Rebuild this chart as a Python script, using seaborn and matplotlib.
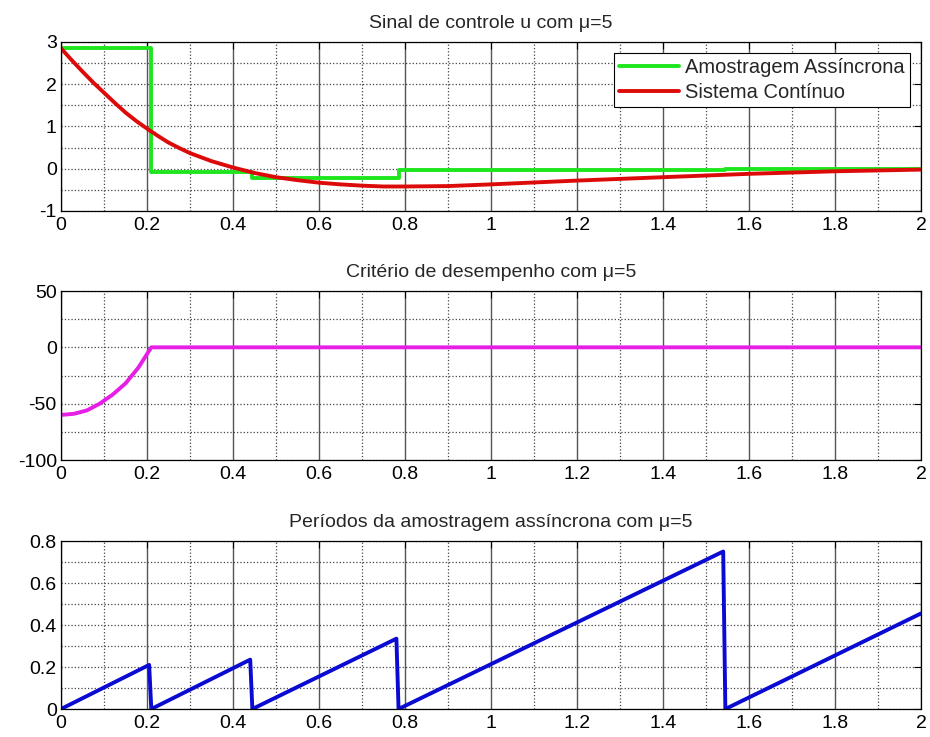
import matplotlib
matplotlib.use("Agg")
import matplotlib.pyplot as plt
import numpy as np
import pandas as pd
import seaborn as sns
from matplotlib.ticker import MultipleLocator

# Sinal de controle u (amostragem assincrona, degraus)
t_step = [0.0, 0.21, 0.445, 0.785, 1.545, 2.0]
u_step = [2.85, -0.08, -0.22, -0.03, 0.0, 0.0]

# Sinal de controle u (sistema continuo)
t_cont = [0.0, 0.025, 0.05, 0.075, 0.1, 0.125, 0.15, 0.175, 0.2, 0.225, 0.25,
          0.275, 0.3, 0.35, 0.4, 0.45, 0.5, 0.55, 0.6, 0.65, 0.7, 0.75, 0.8,
          0.9, 1.0, 1.2, 1.4, 1.6, 1.8, 2.0]
u_cont = [2.85, 2.57, 2.3, 2.04, 1.8, 1.56, 1.33, 1.13, 0.95, 0.78, 0.62,
          0.49, 0.37, 0.18, 0.03, -0.1, -0.2, -0.27, -0.33, -0.37, -0.4, -0.42, -0.42,
          -0.41, -0.37, -0.28, -0.2, -0.12, -0.06, -0.02]

# Criterio de desempenho
t_crit = [0.0, 0.03, 0.06, 0.09, 0.12, 0.15, 0.18, 0.21, 0.5, 1.0, 1.5, 2.0]
crit = [-60, -59, -56, -50, -42, -32, -18, 0, 0, 0, 0, 0]

# Periodos da amostragem assincrona (dente de serra)
t_per = [0.0, 0.205, 0.21, 0.44, 0.445, 0.78, 0.785, 1.54, 1.545, 2.0]
per = [0.0, 0.21, 0.0, 0.235, 0.0, 0.335, 0.0, 0.75, 0.0, 0.455]

sns.set_style("white")
plt.rcParams['font.family'] = ['Liberation Sans', 'DejaVu Sans']
plt.rcParams['axes.unicode_minus'] = False

fig = plt.figure(figsize=(9.3, 7.37), dpi=100)
W, H = 930, 737


def make_ax(top, bottom):
    ax = fig.add_axes([61 / W, 1 - bottom / H, 860 / W, (bottom - top) / H])
    return ax


def fmt(v, p):
    return '%g' % round(v, 3)


def style_ax(ax, ymin, ymax, ymaj, ymin_step, title):
    ax.set_xlim(0, 2)
    ax.set_ylim(ymin, ymax)
    ax.xaxis.set_major_locator(MultipleLocator(0.2))
    ax.xaxis.set_minor_locator(MultipleLocator(0.1))
    ax.yaxis.set_major_locator(MultipleLocator(ymaj))
    ax.yaxis.set_minor_locator(MultipleLocator(ymin_step))
    ax.grid(True, axis='x', which='major', color='#555555', linestyle='-', linewidth=1.0)
    ax.grid(True, axis='x', which='minor', color='#444444', linestyle=':', linewidth=0.9)
    ax.grid(True, axis='y', which='both', color='#444444', linestyle=':', linewidth=0.9)
    ax.tick_params(which='both', direction='in', top=True, right=True,
                   labelsize=14, length=5, width=0.8, colors='black')
    ax.tick_params(which='minor', length=0)
    ax.tick_params(axis='x', pad=4)
    ax.tick_params(axis='y', pad=3)
    for s in ax.spines.values():
        s.set_color('black')
        s.set_linewidth(0.9)
    ax.set_xlabel('')
    ax.set_ylabel('')
    ax.set_title(title, fontsize=14, pad=10)
    ax.xaxis.set_major_formatter(plt.FuncFormatter(fmt))
    ax.yaxis.set_major_formatter(plt.FuncFormatter(fmt))


ax1 = make_ax(42, 211)
ax2 = make_ax(291, 460)
ax3 = make_ax(541, 709)

df_step = pd.DataFrame({'t': t_step, 'u': u_step})
df_cont = pd.DataFrame({'t': t_cont, 'u': u_cont})
sns.lineplot(data=df_step, x='t', y='u', ax=ax1, color='#1ee61e', linewidth=2.8,
             drawstyle='steps-post', estimator=None, sort=False,
             label='Amostragem Assíncrona')
sns.lineplot(data=df_cont, x='t', y='u', ax=ax1, color='#dd0a0a', linewidth=2.8,
             estimator=None, sort=False, label='Sistema Contínuo')
style_ax(ax1, -1, 3, 1, 0.5, 'Sinal de controle u com μ=5')
leg = ax1.legend(loc='upper right', fontsize=14.5, frameon=True, fancybox=False,
                 edgecolor='black', framealpha=1, handlelength=3.0,
                 borderaxespad=0.55, borderpad=0.25, labelspacing=0.3,
                 handletextpad=0.3)
leg.get_frame().set_linewidth(0.8)

df_crit = pd.DataFrame({'t': t_crit, 'J': crit})
sns.lineplot(data=df_crit, x='t', y='J', ax=ax2, color='#e61ee6', linewidth=2.8,
             estimator=None, sort=False)
style_ax(ax2, -100, 50, 50, 25, 'Critério de desempenho com μ=5')

df_per = pd.DataFrame({'t': t_per, 'T': per})
sns.lineplot(data=df_per, x='t', y='T', ax=ax3, color='#0a0ad2', linewidth=2.8,
             estimator=None, sort=False)
style_ax(ax3, 0, 0.8, 0.2, 0.1, 'Períodos da amostragem assíncrona com μ=5')

fig.savefig('out.png', dpi=100)
